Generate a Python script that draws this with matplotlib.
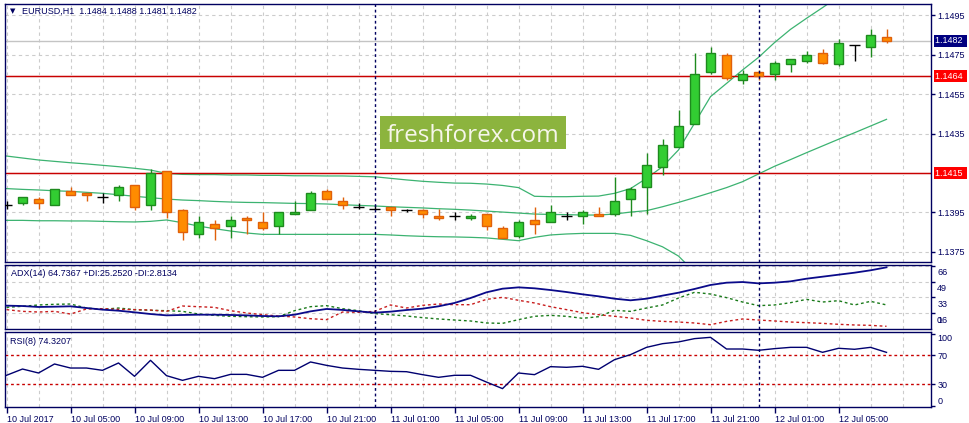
import numpy as np
import pandas as pd
import matplotlib
matplotlib.use('Agg')
import matplotlib.pyplot as plt
from matplotlib.patches import Rectangle
from matplotlib.transforms import blended_transform_factory, ScaledTranslation

plt.rcParams['font.family'] = ['Liberation Sans', 'DejaVu Sans']

SYMBOL = 'EURUSD,H1'
START = '2017-07-10 01:00'

# H1 candles
opens = [1.1399, 1.1400, 1.1402, 1.1399, 1.1406, 1.1405, 1.1403, 1.1404, 1.1409, 1.1399,
         1.1416, 1.1396, 1.1384, 1.1389, 1.1388, 1.1392, 1.1390, 1.1388, 1.1394, 1.1396,
         1.1406, 1.1401, 1.1398, 1.1397, 1.1398, 1.1396, 1.1396, 1.1393, 1.1393, 1.1392,
         1.1394, 1.1387, 1.1383, 1.1391, 1.1390, 1.1393, 1.1393, 1.1394, 1.1394, 1.1402,
         1.1408, 1.1418, 1.1428, 1.1440, 1.1466, 1.1475, 1.1462, 1.1466, 1.1465, 1.1470,
         1.1472, 1.1476, 1.1470, 1.1480, 1.1479, 1.1484]
highs = [1.1401, 1.1403, 1.1403, 1.1407, 1.1408, 1.1405, 1.1405, 1.1409, 1.1409, 1.1417,
         1.1416, 1.1397, 1.1393, 1.1391, 1.1393, 1.1393, 1.1395, 1.1395, 1.1401, 1.1406,
         1.1407, 1.1403, 1.1400, 1.1399, 1.1398, 1.1397, 1.1397, 1.1397, 1.1395, 1.1394,
         1.1394, 1.1388, 1.1391, 1.1398, 1.1399, 1.1395, 1.1396, 1.1398, 1.1413, 1.1408,
         1.1425, 1.1432, 1.1447, 1.1476, 1.1479, 1.1476, 1.1467, 1.1467, 1.1472, 1.1473,
         1.1477, 1.1478, 1.1483, 1.1480, 1.1488, 1.1488]
lows = [1.1397, 1.1399, 1.1397, 1.1399, 1.1404, 1.1401, 1.1400, 1.1401, 1.1396, 1.1396,
        1.1392, 1.1381, 1.1382, 1.1381, 1.1382, 1.1384, 1.1386, 1.1384, 1.1394, 1.1396,
        1.1402, 1.1397, 1.1397, 1.1396, 1.1393, 1.1395, 1.1392, 1.1391, 1.1391, 1.1391,
        1.1386, 1.1382, 1.1382, 1.1384, 1.1390, 1.1391, 1.1389, 1.1393, 1.1393, 1.1393,
        1.1394, 1.1414, 1.1428, 1.1440, 1.1465, 1.1462, 1.1460, 1.1462, 1.1462, 1.1466,
        1.1471, 1.1470, 1.1469, 1.1472, 1.1474, 1.1481]
closes = [1.1399, 1.1403, 1.1400, 1.1407, 1.1404, 1.1404, 1.1403, 1.1408, 1.1398, 1.1415,
          1.1395, 1.1385, 1.1390, 1.1387, 1.1391, 1.1391, 1.1387, 1.1395, 1.1395, 1.1405,
          1.1402, 1.1399, 1.1398, 1.1397, 1.1396, 1.1396, 1.1394, 1.1392, 1.1393, 1.1393,
          1.1388, 1.1382, 1.1390, 1.1389, 1.1395, 1.1393, 1.1395, 1.1393, 1.1401, 1.1407,
          1.1419, 1.1429, 1.1439, 1.1465, 1.1476, 1.1463, 1.1465, 1.1464, 1.1471, 1.1473,
          1.1475, 1.1471, 1.1481, 1.1480, 1.1485, 1.1482]

# Bollinger bands
bb_upper = [1.14236, 1.14226, 1.14216, 1.14209, 1.14202, 1.14196, 1.14189, 1.14182, 1.14174, 1.14165,
            1.14148, 1.14143, 1.14142, 1.14142, 1.14140, 1.14140, 1.14138, 1.14138, 1.14136, 1.14136,
            1.14135, 1.14135, 1.14133, 1.14131, 1.14123, 1.14115, 1.14108, 1.14103, 1.14099, 1.14098,
            1.14094, 1.14087, 1.14076, 1.14032, 1.14030, 1.14030, 1.14032, 1.14033, 1.14047, 1.14071,
            1.14123, 1.14182, 1.14267, 1.14402, 1.14537, 1.14604, 1.14672, 1.14736, 1.14811, 1.14878,
            1.14934, 1.14988, 1.15044, 1.15094, 1.15137, 1.15179]
bb_middle = [1.14071, 1.14067, 1.14064, 1.14060, 1.14057, 1.14052, 1.14047, 1.14040, 1.14032, 1.14025,
             1.14018, 1.14013, 1.14010, 1.14006, 1.14003, 1.14001, 1.14000, 1.13998, 1.13996, 1.13995,
             1.13993, 1.13989, 1.13986, 1.13983, 1.13979, 1.13976, 1.13973, 1.13969, 1.13966, 1.13962,
             1.13957, 1.13952, 1.13947, 1.13942, 1.13940, 1.13939, 1.13937, 1.13937, 1.13942, 1.13952,
             1.13959, 1.13979, 1.14001, 1.14025, 1.14050, 1.14076, 1.14106, 1.14145, 1.14184, 1.14218,
             1.14253, 1.14287, 1.14321, 1.14354, 1.14388, 1.14422]
bb_lower = [1.13910, 1.13910, 1.13908, 1.13908, 1.13907, 1.13907, 1.13905, 1.13903, 1.13902, 1.13905,
            1.13912, 1.13898, 1.13881, 1.13868, 1.13856, 1.13846, 1.13839, 1.13839, 1.13839, 1.13839,
            1.13839, 1.13839, 1.13839, 1.13839, 1.13836, 1.13832, 1.13829, 1.13827, 1.13826, 1.13824,
            1.13821, 1.13814, 1.13807, 1.13824, 1.13836, 1.13841, 1.13844, 1.13844, 1.13844, 1.13834,
            1.13807, 1.13776, 1.13729, 1.13648, 1.13563, 1.13547, 1.13540, 1.13554, 1.13557, 1.13557,
            1.13572, 1.13586, 1.13598, 1.13614, 1.13640, 1.13665]

levels = [1.1464, 1.1415]

adx = [24.5, 24.1, 23.1, 23.4, 23.8, 22.0, 20.3, 19.2, 17.5, 15.7,
       14.3, 14.7, 15.0, 15.0, 14.7, 14.3, 13.6, 13.3, 15.0, 18.5,
       21.0, 20.0, 18.5, 17.1, 18.2, 19.9, 21.3, 23.8, 27.3, 32.5,
       38.5, 42.3, 43.7, 42.7, 40.9, 38.8, 36.4, 34.3, 31.8, 30.1,
       31.8, 35.0, 38.1, 42.0, 46.2, 48.6, 49.3, 47.9, 48.6, 50.0,
       52.8, 54.9, 57.0, 59.1, 61.6, 64.7367]
plus_di = [22.7, 23.8, 25.2, 25.9, 26.2, 22.0, 20.6, 22.0, 20.3, 19.6,
           19.2, 18.5, 15.7, 14.3, 13.3, 12.9, 12.6, 12.9, 19.2, 23.4,
           24.5, 21.3, 19.2, 16.1, 15.0, 13.6, 11.9, 10.5, 9.4, 8.4,
           6.3, 5.9, 9.8, 13.3, 14.3, 13.3, 11.2, 12.9, 19.6, 18.5,
           22.0, 25.2, 32.5, 38.5, 36.7, 32.9, 28.3, 24.5, 25.2, 27.6,
           31.1, 28.3, 29.7, 25.2, 29.0, 25.2520]
minus_di = [20.3, 18.5, 17.8, 18.5, 15.7, 21.0, 21.3, 20.6, 20.3, 19.9,
            18.5, 24.1, 23.4, 22.7, 19.2, 16.8, 15.0, 13.6, 12.6, 10.8,
            9.8, 17.8, 17.5, 18.5, 25.2, 22.0, 24.8, 26.2, 25.5, 25.5,
            31.1, 33.2, 30.1, 27.3, 23.4, 20.3, 17.1, 15.0, 13.3, 11.5,
            9.1, 8.0, 7.3, 6.3, 4.5, 8.0, 10.5, 9.4, 8.4, 7.3,
            6.6, 5.9, 4.9, 4.2, 3.8, 2.8134]
adx_ticks = [16.6, 33.2, 49.8, 66.4]

rsi = [42.5, 51.2, 45.7, 58.2, 52.6, 52.6, 49.4, 59.6, 41.1, 63.3,
       42.0, 35.5, 41.1, 37.8, 43.8, 43.8, 39.7, 49.4, 49.4, 61.0,
       56.3, 52.6, 50.8, 49.4, 48.0, 47.5, 43.4, 39.7, 42.5, 42.5,
       33.1, 24.0, 45.7, 43.4, 54.5, 53.6, 55.0, 50.8, 64.2, 71.2,
       81.3, 86.4, 88.8, 93.4, 95.2, 79.0, 79.0, 77.2, 79.5, 81.3,
       81.3, 74.4, 80.0, 78.6, 81.3, 74.3207]
rsi_levels = [70, 30]
rsi_ticks = [0, 30, 70, 100]

NAVY = '#000060'
GRID = '#cccccc'
BULL_FILL, BULL_EDGE = '#32cd32', '#1e8a1e'
BEAR_FILL, BEAR_EDGE = '#ff8c00', '#e0600a'
BAND = '#3cb371'
LEVEL = '#c80000'
FS = 6.5

o, h, l, c = (np.array(v) for v in (opens, highs, lows, closes))
x = np.arange(len(o))
times = pd.date_range(START, periods=len(o), freq='h')
label_idx = x[(times.hour - 1) % 4 == 0]
sep_idx = x[times.hour == 0]

W, H = 969, 423
fig = plt.figure(figsize=(W / 100, H / 100), dpi=100)

def panel(top, bottom):
    return fig.add_axes([5 / W, 1 - bottom / H, 926 / W, (bottom - top) / H])

ax = panel(3.5, 262)
ax_adx = panel(264.5, 328.5)
ax_rsi = panel(332, 407)

for a in (ax, ax_adx, ax_rsi):
    a.set_xlim(-0.094, 57.78)
    for s in a.spines.values():
        s.set_color(NAVY)
        s.set_linewidth(1)
    a.yaxis.tick_right()
    a.tick_params(axis='y', direction='out', length=3, width=1, colors=NAVY,
                  labelsize=FS, pad=1.5)
    for g in range(0, len(x) + 2, 2):
        a.axvline(g, color=GRID, lw=0.8, ls=(0, (3, 3)), zorder=0)
    for s in sep_idx:
        a.axvline(s, color=NAVY, lw=1, ls=(0, (2, 2)), zorder=6)
for a in (ax, ax_adx):
    a.set_xticks([])

# price panel
ax.set_ylim(1.13699, 1.15009)
for g in np.arange(1.1375, 1.1496, 0.002):
    ax.axhline(g, color=GRID, lw=0.8, ls=(0, (3, 3)), zorder=0)
ticks = [t for t in np.arange(1.1375, 1.1496, 0.002) if abs(t - 1.1415) > 1e-6]
ax.set_yticks(ticks)
ax.set_yticklabels([f'{t:.4f}' for t in ticks])

ax.plot(x, bb_upper, color=BAND, lw=0.9, zorder=2)
ax.plot(x, bb_middle, color=BAND, lw=0.9, zorder=2)
ax.plot(x, bb_lower, color=BAND, lw=0.9, zorder=2)

ax.axhline(c[-1], color='#c4c4c4', lw=1, zorder=1)
for lv in levels:
    ax.axhline(lv, color='#f8dcdc', lw=2.2, zorder=1)
    ax.axhline(lv, color=LEVEL, lw=0.9, zorder=2)

up, dn, dj = c > o, c < o, c == o
for m, fill, edge in [(up, BULL_FILL, BULL_EDGE), (dn, BEAR_FILL, BEAR_EDGE)]:
    ax.vlines(x[m], l[m], h[m], color=edge, lw=1, zorder=3)
    ax.bar(x[m], c[m] - o[m], bottom=o[m], width=0.62, color=fill,
           edgecolor=edge, lw=1, zorder=4)
ax.vlines(x[dj], l[dj], h[dj], color='black', lw=1, zorder=3)
ax.hlines(o[dj], x[dj] - 0.34, x[dj] + 0.34, color='black', lw=1, zorder=3)

yblend = blended_transform_factory(ax.transAxes, ax.transData)
for price, col in [(c[-1], '#000080'), (levels[0], '#ff0000'), (levels[1], '#ff0000')]:
    ax.text(1.0045, price, f'{price:.4f} ', transform=yblend, ha='left', va='center',
            color='white', fontsize=FS, clip_on=False, zorder=10,
            bbox=dict(boxstyle='square,pad=0.18', fc=col, ec='none'))

ax.annotate('\u25bc', xy=(0, 1), xycoords='axes fraction', xytext=(7.5, -8),
            textcoords='offset pixels', va='center', ha='center', fontsize=5,
            color=NAVY, family='DejaVu Sans')
ax.annotate(f'{SYMBOL}  {o[-1]:.4f} {h[-1]:.4f} {l[-1]:.4f} {c[-1]:.4f}',
            xy=(0, 1), xycoords='axes fraction', xytext=(16.5, -8),
            textcoords='offset pixels', va='center', ha='left', fontsize=FS, color=NAVY)

ax.add_patch(Rectangle((0.405, 0.436), 0.2009, 0.1288, transform=ax.transAxes,
                       fc='#8cb43e', ec='none', zorder=7))
ax.text(0.505, 0.466, 'freshforex.com', transform=ax.transAxes, ha='center',
        va='baseline', fontsize=17.5, color='#f6f6ea', family='Open Sans', zorder=8)

# ADX panel
ax_adx.set_ylim(0.5, 67.7)
for g in adx_ticks:
    ax_adx.axhline(g, color=GRID, lw=0.8, ls=(0, (3, 3)), zorder=0)
ax_adx.plot(x, adx, color='#0a0a8a', lw=1.3, zorder=3)
ax_adx.plot(x, plus_di, color='#1a7a1a', lw=1, ls=(0, (2, 2)), zorder=2)
ax_adx.plot(x, minus_di, color='#c81e1e', lw=1, ls=(0, (2, 2)), zorder=2)
ax_adx.set_yticks(adx_ticks)
ax_adx.set_yticklabels([str(int(t)) for t in adx_ticks])
down = ScaledTranslation(0, -0.06, fig.dpi_scale_trans)
for lab in ax_adx.get_yticklabels():
    lab.set_transform(lab.get_transform() + down)
# the "0" label sits on top of "16", as in the terminal
ax_adx.annotate('0', xy=(1, adx_ticks[0]),
                xycoords=blended_transform_factory(ax_adx.transAxes, ax_adx.transData),
                xytext=(6, -6), textcoords='offset pixels', va='center_baseline', ha='left',
                fontsize=FS, color=NAVY, annotation_clip=False)
ax_adx.annotate(f'ADX(14) {adx[-1]:.4f} +DI:{plus_di[-1]:.4f} -DI:{minus_di[-1]:.4f}',
                xy=(0, 1), xycoords='axes fraction', xytext=(6, -9),
                textcoords='offset pixels', va='center', ha='left', fontsize=FS, color=NAVY)

# RSI panel
ax_rsi.set_ylim(-1.5, 102.6)
for lv in rsi_levels:
    ax_rsi.axhline(lv, color=LEVEL, lw=1, ls=(0, (2, 2)), zorder=1)
ax_rsi.plot(x, rsi, color='#000070', lw=1, zorder=3)
ax_rsi.set_yticks(rsi_ticks)
ax_rsi.set_yticklabels([str(t) for t in rsi_ticks])
labs = ax_rsi.get_yticklabels()
labs[0].set_transform(labs[0].get_transform() + ScaledTranslation(0, 0.05, fig.dpi_scale_trans))
labs[-1].set_transform(labs[-1].get_transform() + ScaledTranslation(0, -0.04, fig.dpi_scale_trans))
ax_rsi.annotate(f'RSI(8) {rsi[-1]:.4f}', xy=(0, 1), xycoords='axes fraction',
                xytext=(5, -9), textcoords='offset pixels', va='center', ha='left',
                fontsize=FS, color=NAVY)

tick_labels = [t.strftime('%d %b %H:%M') for t in times[label_idx]]
tick_labels[0] = times[0].strftime('%d %b %Y')
ax_rsi.set_xticks(label_idx)
ax_rsi.set_xticklabels(tick_labels, ha='left')
ax_rsi.tick_params(axis='x', direction='out', length=4, width=1, colors=NAVY,
                   labelsize=FS, pad=2)

fig.savefig('out.png', dpi=100)
